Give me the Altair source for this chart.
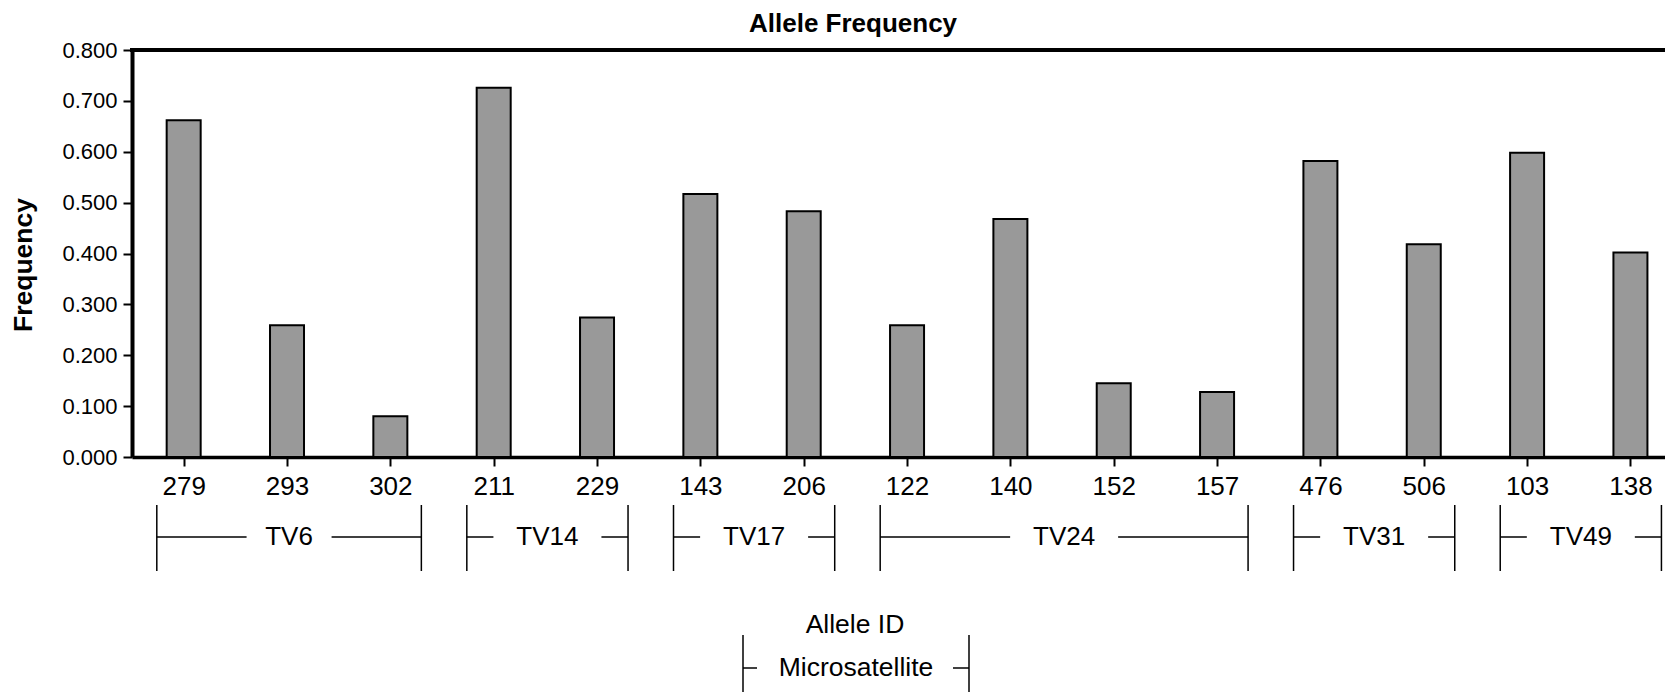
import altair as alt
import pandas as pd

# ---- data ----
alleles = ['279', '293', '302', '211', '229', '143', '206', '122', '140',
           '152', '157', '476', '506', '103', '138']
loci = ['TV6', 'TV6', 'TV6', 'TV14', 'TV14', 'TV17', 'TV17', 'TV24', 'TV24',
        'TV24', 'TV24', 'TV31', 'TV31', 'TV49', 'TV49']
freq = [0.662, 0.259, 0.080, 0.726, 0.274, 0.517, 0.483, 0.259, 0.468,
        0.145, 0.128, 0.582, 0.418, 0.598, 0.402]
y_ticks = [0.0, 0.1, 0.2, 0.3, 0.4, 0.5, 0.6, 0.7, 0.8]

# ---- layout ----
LEFT, TOP = 132, 50
W, H = 1533, 407
STEP = 103.34                      # px per allele slot
XMAX = -0.5 + W / STEP
HALF_BAR = 17 / STEP
FONT = "Liberation Sans"

bars = pd.DataFrame({
    "idx": list(range(len(alleles))),
    "allele": alleles,
    "locus": loci,
    "freq": freq,
})

# group brackets derived from the allele/locus arrays
groups = []
for name in dict.fromkeys(loci):
    ids = [i for i, l in enumerate(loci) if l == name]
    left, right = ids[0] - 0.26, ids[-1] + 0.30
    center = (left + right) / 2
    hg = (8 + 11.5 * len(name)) / STEP
    groups.append({"locus": name, "left": left, "right": right,
                   "center": center, "lend": center - hg, "rstart": center + hg})
groups = pd.DataFrame(groups)

xscale = alt.Scale(domain=[-0.5, XMAX], nice=False, zero=False)
yscale = alt.Scale(domain=[0, 0.8], nice=False)

label_expr = "[" + ",".join("'" + a + "'" for a in alleles) + "][datum.value]"

x_axis = alt.Axis(values=list(range(len(alleles))), labelExpr=label_expr,
                  title=None, grid=False, tickSize=9, tickWidth=2,
                  domainWidth=3.5, domainColor="black", tickColor="black",
                  labelColor="black", labelFontSize=26, labelPadding=7,
                  labelFlush=False, labelOverlap=False)
y_axis = alt.Axis(values=y_ticks, format=".3f", title=None, grid=False,
                  tickSize=9, tickWidth=2, domainWidth=4, domainColor="black",
                  tickColor="black", labelColor="black", labelFontSize=22,
                  labelPadding=6)

bar_layer = alt.Chart(bars).transform_calculate(
    x0=f"datum.idx - {HALF_BAR}", x1=f"datum.idx + {HALF_BAR}"
).mark_bar(fill="#999999", stroke="black", strokeWidth=2).encode(
    x=alt.X("x0:Q", scale=xscale, axis=x_axis),
    x2="x1:Q",
    y=alt.Y("freq:Q", scale=yscale, axis=y_axis),
    y2=alt.datum(0),
)

dummy = pd.DataFrame({"a": [0]})

top_rule = alt.Chart(dummy).mark_rule(color="black", strokeWidth=4).encode(
    x=alt.value(-2), x2=alt.value(W), y=alt.datum(0.8)
)

vert = alt.Chart(groups).transform_fold(["left", "right"]).mark_rule(
    color="black", strokeWidth=1.5
).encode(x="value:Q", y=alt.value(455), y2=alt.value(521))

hl = alt.Chart(groups).mark_rule(color="black", strokeWidth=1.5).encode(
    x="left:Q", x2="lend:Q", y=alt.value(487))
hr = alt.Chart(groups).mark_rule(color="black", strokeWidth=1.5).encode(
    x="rstart:Q", x2="right:Q", y=alt.value(487))

glabels = alt.Chart(groups).mark_text(
    fontSize=26, baseline="middle", align="center", color="black"
).encode(x="center:Q", y=alt.value(487), text="locus:N")

title = alt.Chart(dummy).mark_text(
    text="Allele Frequency", fontSize=26, fontWeight="bold",
    baseline="middle", align="center", color="black"
).encode(x=alt.value(853 - LEFT), y=alt.value(24 - TOP))

ytitle = alt.Chart(dummy).mark_text(
    text="Frequency", fontSize=26.5, fontWeight="bold", angle=270,
    baseline="middle", align="center", color="black"
).encode(x=alt.value(24 - LEFT), y=alt.value(265 - TOP))

xtitle = alt.Chart(dummy).mark_text(
    text="Allele ID", fontSize=26.5, baseline="middle", align="center",
    color="black"
).encode(x=alt.value(855 - LEFT), y=alt.value(625 - TOP))

mtitle = alt.Chart(dummy).mark_text(
    text="Microsatellite", fontSize=26.5, baseline="middle", align="center",
    color="black"
).encode(x=alt.value(856 - LEFT), y=alt.value(668 - TOP))

m_l = alt.Chart(dummy).mark_rule(color="black", strokeWidth=1.5).encode(
    x=alt.value(743 - LEFT), y=alt.value(635 - TOP), y2=alt.value(700 - TOP))
m_r = alt.Chart(dummy).mark_rule(color="black", strokeWidth=1.5).encode(
    x=alt.value(969 - LEFT), y=alt.value(635 - TOP), y2=alt.value(700 - TOP))
m_hl = alt.Chart(dummy).mark_rule(color="black", strokeWidth=1.5).encode(
    x=alt.value(743 - LEFT), x2=alt.value(757 - LEFT), y=alt.value(668 - TOP))
m_hr = alt.Chart(dummy).mark_rule(color="black", strokeWidth=1.5).encode(
    x=alt.value(953 - LEFT), x2=alt.value(969 - LEFT), y=alt.value(668 - TOP))

chart = alt.layer(
    bar_layer, top_rule, vert, hl, hr, glabels,
    title, ytitle, xtitle, mtitle, m_l, m_r, m_hl, m_hr
).properties(
    width=W, height=H,
    autosize=alt.AutoSizeParams(type="none"),
    padding={"left": LEFT, "top": TOP, "right": 0, "bottom": 235},
).configure(font=FONT).configure_view(stroke=None)

chart.save("out.html", embed_options={"renderer": "svg", "actions": False})
